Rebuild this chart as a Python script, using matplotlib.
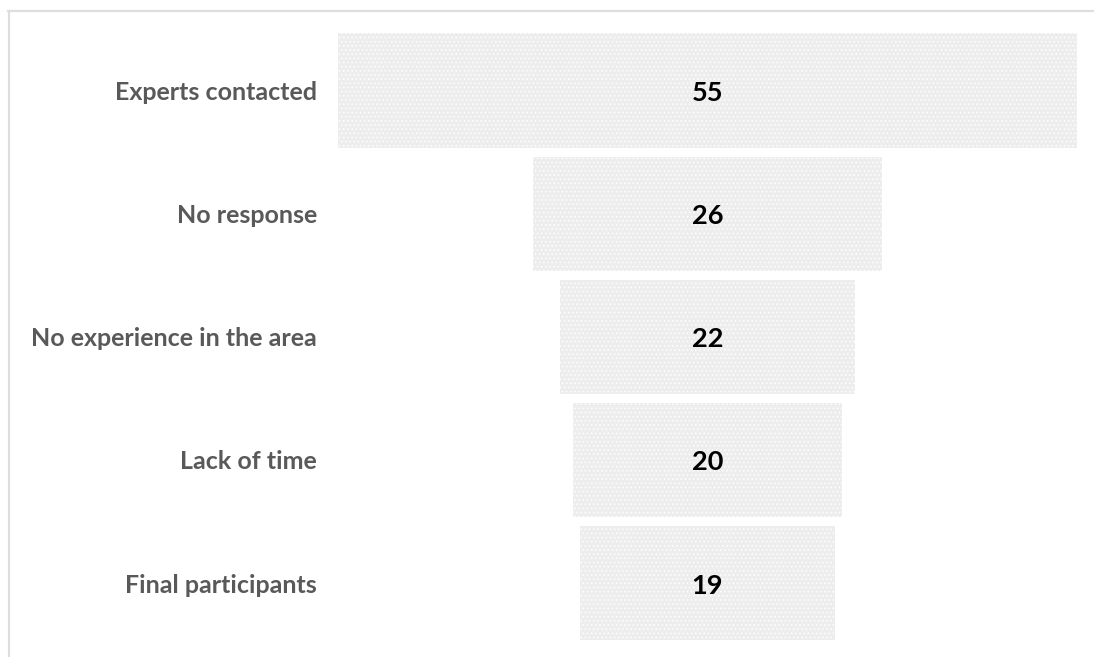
import numpy as np
import matplotlib.pyplot as plt
from matplotlib.lines import Line2D

# funnel stages, top to bottom
stages = ["Experts contacted", "No response", "No experience in the area",
          "Lack of time", "Final participants"]
counts = [55, 26, 22, 20, 19]

plt.rcParams["font.family"] = ["Lato", "DejaVu Sans"]
plt.rcParams["hatch.color"] = "white"
plt.rcParams["hatch.linewidth"] = 0.6

W, H = 1094, 657
fig = plt.figure(figsize=(W / 100, H / 100), dpi=100)
ax = fig.add_axes([338 / W, 12.4 / H, 739 / W, 615.5 / H])

y = np.arange(len(stages))
vals = np.array(counts, dtype=float)
ax.barh(y, vals, left=-vals / 2, height=0.93, color="#ededed",
        edgecolor="white", linewidth=0, hatch="....")

for yi, v in zip(y, counts):
    ax.text(0, yi + 0.02, str(v), ha="center", va="center", fontsize=19.5,
            fontweight="bold", color="black")

ax.set_xlim(-max(counts) / 2, max(counts) / 2)
ax.set_ylim(len(stages) - 0.5, -0.5)
ax.set_yticks(y)
ax.set_yticklabels(stages, fontsize=18, fontweight="bold", color="#595959")
ax.tick_params(axis="y", length=0, pad=15)
ax.set_xticks([])
for s in ax.spines.values():
    s.set_visible(False)

# thin frame along the top and left of the figure
fig.add_artist(Line2D([8 / W, 1], [1 - 10.5 / H, 1 - 10.5 / H],
                      transform=fig.transFigure, color="#dedede", lw=1.6))
fig.add_artist(Line2D([8.5 / W, 8.5 / W], [0, 1 - 10.5 / H],
                      transform=fig.transFigure, color="#dedede", lw=1.6))

fig.savefig("out.png", dpi=100, facecolor="white")
